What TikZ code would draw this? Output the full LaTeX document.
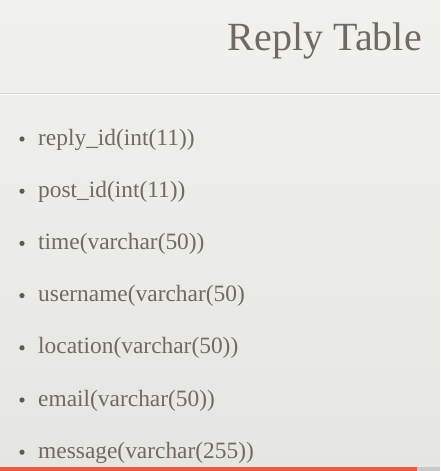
\documentclass[tikz,border=0pt]{standalone}
\usepackage{fontspec}
\setmainfont{Liberation Serif}
\usepackage{tikz}
\usetikzlibrary{calc}
\usepackage{xcolor}
\definecolor{slidetop}{RGB}{241,241,237}
\definecolor{slidebottom}{RGB}{229,229,225}
\definecolor{inkgray}{RGB}{112,106,96}
\definecolor{rulegray}{RGB}{214,214,209}
\definecolor{barred}{RGB}{240,88,70}
\definecolor{bargray}{RGB}{200,201,203}

\begin{document}
\begin{tikzpicture}[
    x=1pt, y=-1pt,
    title text/.style={anchor=base east, inner sep=0pt, color=inkgray,
        font=\fontsize{40}{44}\selectfont},
    field text/.style={anchor=base west, inner sep=0pt, color=inkgray,
        font=\fontsize{23.4}{28}\selectfont},
    bullet dot/.style={fill=inkgray!85!black}
    ]
    % Slide
    \useasboundingbox (0,0) rectangle (440,471);
    \shade[top color=slidetop, bottom color=slidebottom] (0,0) rectangle (440,471);
    \node[title text] (title) at (422,50) {Reply Table};
    \draw[rulegray, line width=0.8pt] (0,93) -- (440,93);
    \draw[white, line width=0.8pt] (0,94.5) -- (440,94.5);
    % Fields, one per line
    \foreach \name [count=\i] in {reply\_id(int(11)),
        post\_id(int(11)),
        time(varchar(50)),
        username(varchar(50),
        location(varchar(50)),
        email(varchar(50)),
        message(varchar(255))}
    {
        \node[field text] (field\i) at (38,{145+52.2*(\i-1)}) {\name};
        \fill[bullet dot] ($(field\i.base west)+(-16,-6)$) circle (2.6);
    }
    % Progress bar
    \fill[barred] (0,467) rectangle (417,471);
    \fill[bargray] (417,467) rectangle (440,471);
\end{tikzpicture}
\end{document}
